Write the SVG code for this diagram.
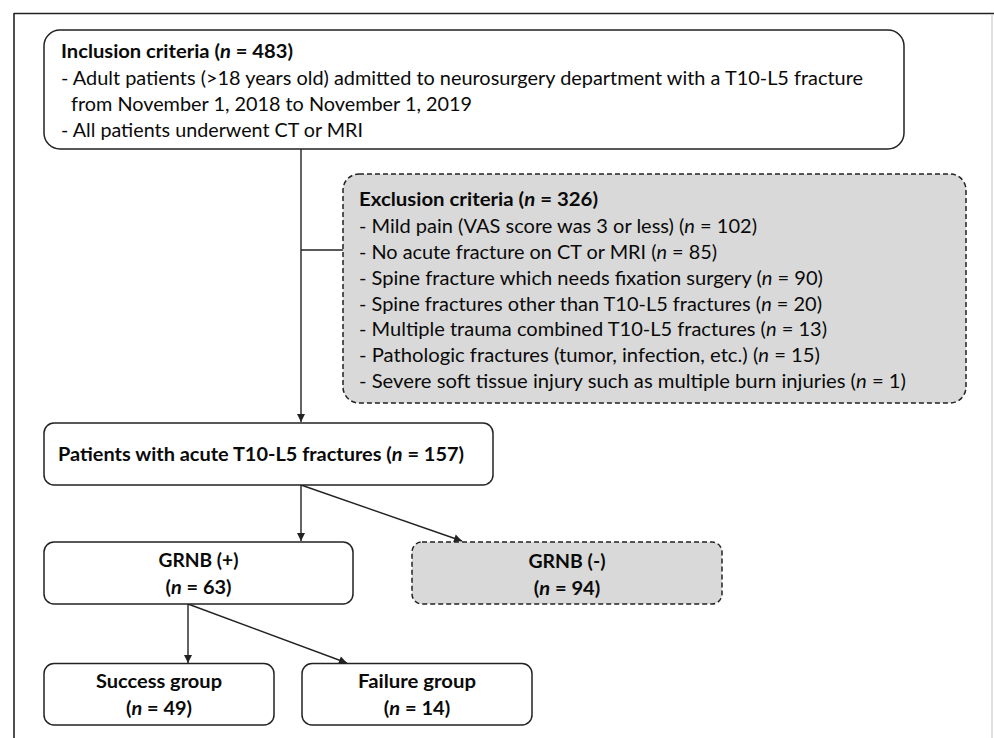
<svg xmlns="http://www.w3.org/2000/svg" width="994" height="738" viewBox="0 0 994 738">
<style>
text{font-family:Lato,"Liberation Sans",sans-serif;font-size:18.5px;fill:#0a0a0a}
.b{font-weight:bold}
.i{font-style:italic}
.box{fill:#fff;stroke:#222;stroke-width:1.5}
.dash{fill:#d9d9d9;stroke:#222;stroke-width:1.5;stroke-dasharray:5 3}
.ln{fill:none;stroke:#222;stroke-width:1.4}
</style>
<defs>
<marker id="ah" viewBox="0 0 10 10" refX="10" refY="5" markerWidth="9" markerHeight="8" markerUnits="userSpaceOnUse" orient="auto">
<path d="M0,0 L10,5 L0,10 z" fill="#222"/>
</marker>
</defs>
<rect width="994" height="738" fill="#fff"/>
<g id="frame">
<line x1="14" y1="13.5" x2="994" y2="13.5" stroke="#222" stroke-width="1.6"/>
<line x1="14" y1="13" x2="14" y2="738" stroke="#222" stroke-width="1.6"/>
<line x1="992" y1="14" x2="992" y2="738" stroke="#ccc" stroke-width="1.2"/>
</g>
<g id="connectors">
<line class="ln" x1="301" y1="149" x2="301" y2="422" marker-end="url(#ah)"/>
<line class="ln" x1="301" y1="250" x2="343" y2="250"/>
<line class="ln" x1="301" y1="485" x2="301" y2="541" marker-end="url(#ah)"/>
<line class="ln" x1="301" y1="485" x2="462" y2="541" marker-end="url(#ah)"/>
<line class="ln" x1="188" y1="604" x2="188" y2="663" marker-end="url(#ah)"/>
<line class="ln" x1="188" y1="604" x2="347" y2="663" marker-end="url(#ah)"/>
</g>
<g id="inclusion">
<rect class="box" x="44" y="30" width="860" height="119" rx="16"/>
<text x="61" y="58" class="b" textLength="232" lengthAdjust="spacingAndGlyphs">Inclusion criteria (<tspan class="i">n</tspan> = 483)</text>
<text x="61" y="84.5" textLength="802" lengthAdjust="spacingAndGlyphs">- Adult patients (&gt;18 years old) admitted to neurosurgery department with a T10-L5 fracture</text>
<text x="71" y="111" textLength="401" lengthAdjust="spacingAndGlyphs">from November 1, 2018 to November 1, 2019</text>
<text x="61" y="137" textLength="302" lengthAdjust="spacingAndGlyphs">- All patients underwent CT or MRI</text>
</g>
<g id="exclusion">
<rect class="dash" x="343" y="174" width="623" height="229" rx="16"/>
<text x="359" y="206" class="b" textLength="239" lengthAdjust="spacingAndGlyphs">Exclusion criteria (<tspan class="i">n</tspan> = 326)</text>
<text x="359" y="232.5" textLength="398" lengthAdjust="spacingAndGlyphs">- Mild pain (VAS score was 3 or less) (<tspan class="i">n</tspan> = 102)</text>
<text x="359" y="258.5" textLength="358" lengthAdjust="spacingAndGlyphs">- No acute fracture on CT or MRI (<tspan class="i">n</tspan> = 85)</text>
<text x="359" y="284.5" textLength="464" lengthAdjust="spacingAndGlyphs">- Spine fracture which needs fixation surgery (<tspan class="i">n</tspan> = 90)</text>
<text x="359" y="310.5" textLength="463" lengthAdjust="spacingAndGlyphs">- Spine fractures other than T10-L5 fractures (<tspan class="i">n</tspan> = 20)</text>
<text x="359" y="336" textLength="468" lengthAdjust="spacingAndGlyphs">- Multiple trauma combined T10-L5 fractures (<tspan class="i">n</tspan> = 13)</text>
<text x="359" y="362" textLength="461" lengthAdjust="spacingAndGlyphs">- Pathologic fractures (tumor, infection, etc.) (<tspan class="i">n</tspan> = 15)</text>
<text x="359" y="388" textLength="547" lengthAdjust="spacingAndGlyphs">- Severe soft tissue injury such as multiple burn injuries (<tspan class="i">n</tspan> = 1)</text>
</g>
<g id="patients">
<rect class="box" x="44" y="423" width="449" height="62" rx="10"/>
<text x="58" y="461" class="b" textLength="406" lengthAdjust="spacingAndGlyphs">Patients with acute T10-L5 fractures (<tspan class="i">n</tspan> = 157)</text>
</g>
<g id="grnb_pos">
<rect class="box" x="44" y="542" width="309" height="62" rx="10"/>
<text x="198.5" y="567" class="b" text-anchor="middle" textLength="80" lengthAdjust="spacingAndGlyphs">GRNB (+)</text>
<text x="198.5" y="593.5" class="b" text-anchor="middle" textLength="66" lengthAdjust="spacingAndGlyphs">(<tspan class="i">n</tspan> = 63)</text>
</g>
<g id="grnb_neg">
<rect class="dash" x="412" y="542" width="310" height="62" rx="10"/>
<text x="567" y="568" class="b" text-anchor="middle" textLength="77" lengthAdjust="spacingAndGlyphs">GRNB (-)</text>
<text x="567" y="594.5" class="b" text-anchor="middle" textLength="66.5" lengthAdjust="spacingAndGlyphs">(<tspan class="i">n</tspan> = 94)</text>
</g>
<g id="success">
<rect class="box" x="44" y="663.5" width="230" height="61.5" rx="10"/>
<text x="159" y="687.5" class="b" text-anchor="middle" textLength="126" lengthAdjust="spacingAndGlyphs">Success group</text>
<text x="159" y="714.5" class="b" text-anchor="middle" textLength="66" lengthAdjust="spacingAndGlyphs">(<tspan class="i">n</tspan> = 49)</text>
</g>
<g id="failure">
<rect class="box" x="302" y="663.5" width="230" height="61.5" rx="10"/>
<text x="417" y="687.5" class="b" text-anchor="middle" textLength="118" lengthAdjust="spacingAndGlyphs">Failure group</text>
<text x="417" y="714.5" class="b" text-anchor="middle" textLength="66.5" lengthAdjust="spacingAndGlyphs">(<tspan class="i">n</tspan> = 14)</text>
</g>
</svg>
